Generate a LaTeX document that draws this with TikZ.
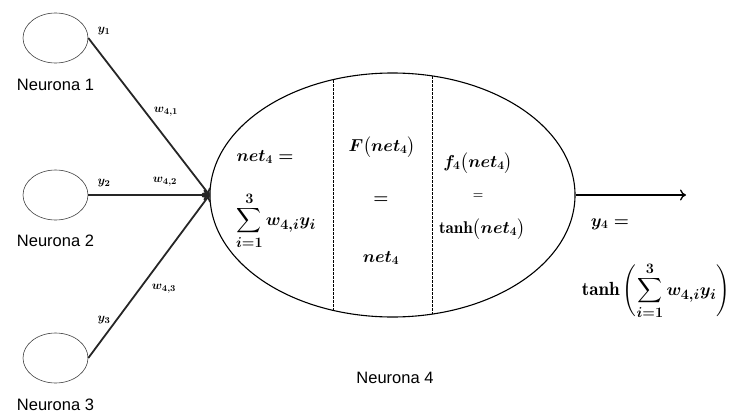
\documentclass[tikz,border=0pt]{standalone}
\usepackage{amsmath}
\usepackage{exscale}
\usepackage{fontspec}
\setsansfont{Liberation Sans}
\usetikzlibrary{shapes.geometric,arrows.meta}
\begin{document}
\begin{tikzpicture}[x=1pt,y=-1pt,
  neuron/.style={draw=black!75,ellipse,minimum width=65pt,minimum height=50pt,inner sep=0pt,line width=0.6pt},
  bigneuron/.style={draw,ellipse,minimum width=365pt,minimum height=244pt,inner sep=0pt,line width=1.1pt},
  lbl/.style={font=\sffamily\fontsize{16.5}{18}\selectfont},
  mth/.style={font=\fontsize{17}{20}\selectfont\boldmath,inner sep=0pt},
  bigmth/.style={font=\fontsize{19}{22}\selectfont\boldmath,inner sep=0pt},
  sml/.style={font=\fontsize{13}{15}\selectfont\boldmath,inner sep=0pt},
  conn/.style={line width=1.8pt,draw=black!85,-{To[length=6pt,width=11pt]}},
  outconn/.style={line width=1.3pt,-{To[length=6pt,width=11pt]}},
  sep/.style={line width=0.9pt,dash pattern=on 2.5pt off 1.5pt}
]
\useasboundingbox (0,0) rectangle (735,415);
\node[neuron] (n1) at (55.5,38) {};
\node[neuron] (n2) at (55.5,195) {};
\node[neuron] (n3) at (55.5,358) {};
\node[lbl] (l1) at (55.5,85) {Neurona 1};
\node[lbl] (l2) at (55.5,241) {Neurona 2};
\node[lbl] (l3) at (55.5,405) {Neurona 3};
\node[bigneuron] (n4) at (392.5,195) {};
\node[lbl] (l4) at (395,378) {Neurona 4};
\begin{scope}
  \clip (392.5,195) ellipse [x radius=182.5pt, y radius=122pt];
  \draw[sep] (333,0) -- (333,415);
  \draw[sep] (432,0) -- (432,415);
\end{scope}
\draw[conn] (n1.east) -- (n4.west);
\draw[conn] (n2.east) -- (n4.west);
\draw[conn] (n3.east) -- (n4.west);
\coordinate (out) at (686,195);
\draw[outconn] (n4.east) -- (out);
% connector labels
\node[sml] (y1) at (104,31) {$y_1$};
\node[sml] (w41) at (166,112) {$w_{4,1}$};
\node[sml] (y2) at (104,183) {$y_2$};
\node[sml] (w42) at (165,182) {$w_{4,2}$};
\node[sml] (y3) at (104,320) {$y_3$};
\node[sml] (w43) at (164,289) {$w_{4,3}$};
% inside neuron 4
\node[mth] (net) at (265,157) {$net_4=$};
\node[bigmth] (sum) at (276,221) {$\displaystyle\sum_{i=1}^{3}w_{4,i}y_i$};
\node[mth] (F) at (382,147) {$F\bigl(net_4\bigr)$};
\node[mth] (eq1) at (381,200) {$=$};
\node[mth] (net2) at (381,258) {$net_4$};
\node[mth] (f) at (478,163) {$f_4\bigl(net_4\bigr)$};
\node[sml] (eq2) at (478,196) {$=$};
\node[mth] (th) at (482,229) {$\tanh\bigl(net_4\bigr)$};
% output
\node[mth] (y4) at (610,224) {$y_4=$};
\node[bigmth] (th2) at (656,291) {$\tanh\left(\displaystyle\sum_{i=1}^{3}w_{4,i}y_i\right)$};
\end{tikzpicture}
\end{document}
